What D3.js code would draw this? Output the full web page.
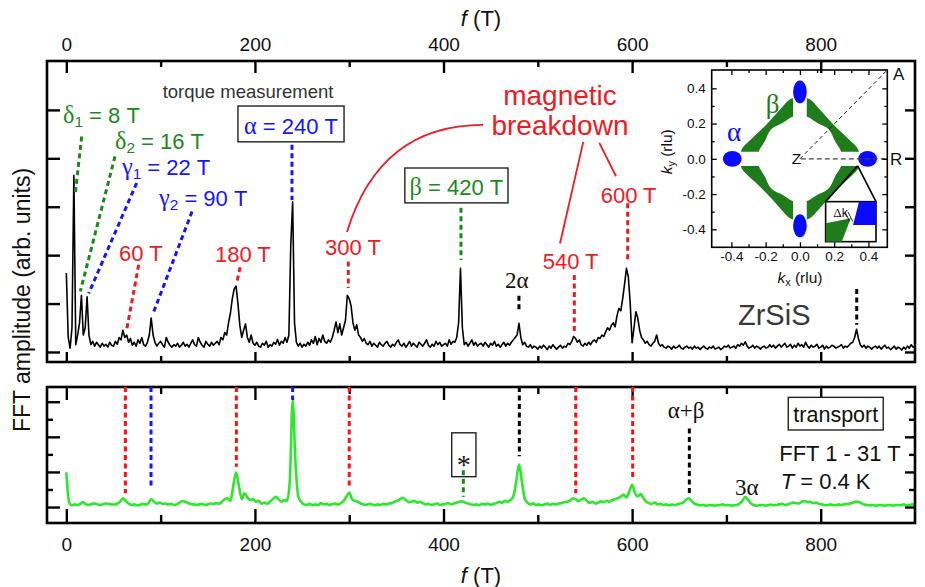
<!DOCTYPE html>
<html><head><meta charset="utf-8">
<script src="https://cdn.jsdelivr.net/npm/d3@7"></script>
<style>
body{margin:0;background:#fff;}
svg{display:block;font-family:"Liberation Sans",Arial,sans-serif;}
</style></head><body>
<svg id="c" width="925" height="587"></svg>
<script>
// ---------------- DATA ----------------
// torque FFT amplitude (arb. units), frequency step 2 T starting at 0 T
const torqueStep = 2;
const torqueAmp = [
1.63,0.30,0.08,0.50,3.65,0.15,0.35,0.60,1.17,0.35,
0.50,1.14,0.35,0.15,0.22,0.12,0.20,0.15,0.10,0.18,
0.12,0.16,0.10,0.20,0.14,0.12,0.22,0.16,0.30,0.25,
0.45,0.30,0.35,0.20,0.28,0.14,0.20,0.12,0.25,0.18,
0.30,0.15,0.12,0.20,0.35,0.70,0.35,0.20,0.12,0.18,
0.22,0.15,0.10,0.30,0.20,0.14,0.10,0.15,0.12,0.18,
0.10,0.14,0.20,0.12,0.16,0.10,0.18,0.25,0.15,0.12,
0.30,0.20,0.14,0.10,0.22,0.16,0.12,0.20,0.14,0.18,
0.22,0.15,0.30,0.25,0.40,0.35,0.60,0.80,1.10,1.30,
1.36,1.00,0.55,0.30,0.45,0.58,0.30,0.20,0.35,0.18,
0.14,0.20,0.12,0.10,0.18,0.14,0.22,0.10,0.15,0.12,
0.20,0.16,0.26,0.14,0.22,0.18,0.30,0.20,0.35,2.20,
3.10,0.60,0.20,0.12,0.18,0.10,0.16,0.12,0.20,0.14,
0.25,0.18,0.32,0.15,0.28,0.20,0.35,0.22,0.18,0.25,
0.20,0.30,0.45,0.62,0.40,0.58,0.35,0.50,0.65,1.17,
1.10,0.95,0.60,0.45,0.56,0.35,0.30,0.22,0.28,0.18,
0.15,0.22,0.12,0.18,0.14,0.10,0.20,0.15,0.12,0.18,
0.22,0.14,0.10,0.16,0.12,0.20,0.25,0.15,0.12,0.18,
0.10,0.15,0.22,0.12,0.18,0.14,0.10,0.20,0.16,0.12,
0.18,0.25,0.14,0.10,0.16,0.12,0.22,0.15,0.20,0.12,
0.15,0.18,0.12,0.25,0.16,0.22,0.20,0.30,0.60,1.73,
0.50,0.15,0.20,0.12,0.18,0.25,0.14,0.20,0.12,0.16,
0.18,0.12,0.20,0.15,0.10,0.18,0.14,0.22,0.12,0.16,
0.10,0.15,0.20,0.12,0.18,0.14,0.20,0.25,0.30,0.35,
0.59,0.30,0.15,0.20,0.12,0.10,0.15,0.08,0.12,0.10,
0.06,0.12,0.08,0.14,0.10,0.05,0.12,0.08,0.15,0.10,
0.06,0.10,0.14,0.08,0.12,0.10,0.18,0.15,0.22,0.32,
0.28,0.20,0.25,0.15,0.12,0.18,0.14,0.20,0.15,0.22,
0.25,0.20,0.30,0.28,0.35,0.32,0.42,0.50,0.45,0.55,
0.60,0.52,0.75,0.90,0.85,1.10,1.40,1.73,1.55,1.00,
0.19,0.50,0.83,0.70,0.45,0.30,0.25,0.18,0.22,0.15,
0.12,0.18,0.22,0.35,0.18,0.12,0.15,0.10,0.08,0.12,
0.10,0.06,0.12,0.08,0.10,0.14,0.08,0.06,0.10,0.12,
0.08,0.10,0.06,0.12,0.08,0.10,0.05,0.09,0.12,0.08,
0.06,0.10,0.08,0.12,0.06,0.08,0.10,0.05,0.08,0.12,
0.10,0.14,0.08,0.10,0.12,0.08,0.15,0.12,0.18,0.14,
0.21,0.12,0.08,0.10,0.14,0.08,0.12,0.10,0.06,0.10,
0.12,0.08,0.10,0.15,0.10,0.14,0.08,0.12,0.16,0.10,
0.14,0.18,0.10,0.12,0.16,0.08,0.14,0.10,0.18,0.12,
0.15,0.10,0.20,0.12,0.08,0.14,0.10,0.12,0.16,0.08,
0.10,0.14,0.06,0.12,0.08,0.10,0.14,0.12,0.08,0.10,
0.12,0.15,0.08,0.12,0.10,0.14,0.18,0.20,0.30,0.47,
0.28,0.15,0.10,0.14,0.08,0.12,0.10,0.06,0.10,0.12,
0.08,0.12,0.06,0.10,0.14,0.08,0.10,0.05,0.08,0.12,
0.06,0.10,0.08,0.04,0.10,0.06,0.12,0.08,0.15,0.10,
0.12];

// transport FFT amplitude (arb. units), frequency step 3 T starting at 0 T
const transportStep = 3;
const transportAmp = [
1.98,0.25,0.10,0.15,0.12,0.20,0.28,0.15,0.12,0.18,
0.20,0.15,0.12,0.16,0.20,0.18,0.15,0.14,0.20,0.30,
0.50,0.35,0.20,0.12,0.15,0.10,0.12,0.18,0.15,0.22,
0.46,0.30,0.20,0.25,0.18,0.20,0.15,0.18,0.12,0.15,
0.25,0.34,0.30,0.22,0.18,0.15,0.12,0.15,0.18,0.12,
0.15,0.20,0.18,0.22,0.18,0.30,0.45,0.50,0.35,1.20,
1.96,1.20,0.45,0.78,0.55,0.40,0.45,0.30,0.35,0.20,
0.25,0.18,0.30,0.45,0.59,0.45,0.30,0.40,0.35,1.50,
6.10,2.50,0.60,0.30,0.15,0.12,0.18,0.10,0.15,0.12,
0.22,0.15,0.18,0.12,0.16,0.20,0.15,0.22,0.35,0.60,
0.82,0.45,0.35,0.30,0.20,0.15,0.12,0.18,0.15,0.10,
0.15,0.12,0.18,0.15,0.20,0.22,0.30,0.35,0.45,0.53,
0.40,0.28,0.30,0.36,0.25,0.30,0.22,0.15,0.18,0.12,
0.15,0.20,0.12,0.15,0.18,0.22,0.15,0.20,0.25,0.30,
0.32,0.25,0.20,0.15,0.12,0.15,0.10,0.18,0.15,0.20,
0.12,0.18,0.22,0.30,0.25,0.35,0.30,0.40,0.60,1.40,
2.44,1.50,0.50,0.25,0.15,0.20,0.12,0.15,0.10,0.15,
0.20,0.12,0.18,0.15,0.20,0.22,0.28,0.30,0.35,0.50,
0.45,0.35,0.42,0.50,0.35,0.25,0.30,0.20,0.25,0.32,
0.28,0.35,0.30,0.40,0.45,0.50,0.60,0.69,0.55,0.90,
1.26,0.80,0.60,0.74,0.50,0.30,0.22,0.18,0.25,0.15,
0.18,0.12,0.15,0.10,0.14,0.12,0.15,0.20,0.25,0.40,
0.50,0.35,0.20,0.15,0.10,0.12,0.08,0.10,0.12,0.08,
0.10,0.12,0.15,0.10,0.12,0.08,0.10,0.12,0.20,0.35,
0.59,0.40,0.20,0.12,0.08,0.10,0.12,0.08,0.10,0.14,
0.10,0.12,0.15,0.18,0.12,0.15,0.20,0.25,0.22,0.20,
0.30,0.34,0.28,0.30,0.22,0.25,0.18,0.15,0.12,0.10,
0.15,0.12,0.10,0.15,0.12,0.15,0.18,0.20,0.25,0.30,
0.30,0.22,0.15,0.12,0.10,0.12,0.08,0.10,0.12,0.08,
0.10,0.12,0.08,0.10,0.12,0.10,0.15,0.10,0.12,0.15,
0.12];

// axis ticks
const fMajor = [0, 200, 400, 600, 800];
const fMinor = [100, 300, 500, 700];
const torqueTicks = [0, 1, 2, 3, 4, 5];
const transportMajor = [0, 2, 4, 6];
const transportMinor = [1, 3, 5];
const kMajor = [-0.4, -0.2, 0, 0.2, 0.4];
const kMinor = [-0.3, -0.1, 0.1, 0.3];

// torque panel guide lines: [f0, a0, f1, a1, kind]
const torqueGuides = [
  [16.3, 4.45, 9.5, 3.28, "delta"],
  [51.6, 4.04, 14.8, 1.25, "delta"],
  [74.6, 3.49, 23.7, 1.21, "gamma"],
  [133.3, 2.90, 92.7, 0.83, "gamma"],
  [76.7, 1.80, 64.3, 0.49, "mb"],
  [184.2, 1.75, 180.7, 1.42, "mb"],
  [239.3, 4.28, 239.3, 3.14, "gamma"],
  [299, 1.87, 299, 1.32, "mb"],
  [418.5, 2.98, 418.5, 1.90, "delta"],
  [480, 1.16, 480, 0.83, "harm"],
  [538.7, 1.59, 538.7, 0.42, "mb"],
  [595.3, 3.07, 595.3, 1.90, "mb"],
  [838.2, 1.30, 838.2, 0.56, "harm"]
];
// transport panel guide lines: [f, aTop, aBottom, kind]
const transportGuides = [
  [62.6, 6.84, 0.78, "mb"],
  [89.8, 6.84, 1.16, "gamma"],
  [180.3, 6.84, 2.30, "mb"],
  [240, 6.84, 6.10, "gamma"],
  [300, 6.84, 1.16, "mb"],
  [421, 2.10, 0.59, "delta"],
  [480.4, 6.84, 2.90, "harm"],
  [540.2, 6.84, 0.78, "mb"],
  [600.6, 6.84, 1.54, "mb"],
  [660.7, 4.48, 0.63, "harm"]
];

// text labels in the torque panel: [f, a, parts, kind]
const torqueLabels = [
  [-3.5, 4.73, ["δ","_1"," = 8 T"], "delta"],
  [51.6, 4.20, ["δ","_2"," = 16 T"], "delta"],
  [59.0, 3.66, ["γ","_1"," = 22 T"], "gamma"],
  [98.3, 3.02, ["γ","_2"," = 90 T"], "gamma"],
  [55.9, 1.88, ["60 T"], "mb"],
  [157.6, 1.86, ["180 T"], "mb"],
  [274.3, 2.00, ["300 T"], "mb"],
  [505.2, 1.71, ["540 T"], "mb"],
  [566.7, 3.08, ["600 T"], "mb"]
];
// boxed labels: [f0, f1, aTop, aBottom, parts, kind]
const torqueBoxes = [
  [182, 294.5, 5.08, 4.34, ["α"," = 240 T"], "gamma"],
  [359, 468.4, 3.80, 3.08, ["β"," = 420 T"], "delta"]
];
// magnetic breakdown connectors
const mbCurve = [[441.9, 4.69], [332.6, 4.69], [297.6, 2.48]];
const mbLines = [[[548.2, 4.34], [523.5, 2.24]], [[565.2, 4.32], [582.9, 3.63]]];

// inset: Fermi surface (k in rlu), one quadrant of the beta band: outer edge, then inner edge
const betaOuter = [[-0.345,0.04],[-0.335,0.062],[-0.27,0.125],[-0.195,0.195],[-0.125,0.27],[-0.062,0.335],[-0.04,0.345]];
const betaInner = [[-0.04,0.24],[-0.058,0.232],[-0.1,0.205],[-0.168,0.168],[-0.205,0.1],[-0.232,0.058],[-0.24,0.04]];
const alphaPockets = [[0,0.38,0.04,0.065],[0,-0.38,0.04,0.065],[-0.395,0,0.055,0.045],[0.395,0,0.055,0.045]];
const zoomApex = [0.337,-0.04];
const zoomBox = [0.15,0.444,-0.243,-0.47];
const zoomBlue = [[0.345,-0.243],[0.444,-0.243],[0.444,-0.375],[0.31,-0.375]];
const zoomGreen = [[0.151,-0.365],[0.297,-0.337],[0.244,-0.47],[0.151,-0.47]];

// ---------------- DRAW ----------------
const FONT = "Liberation Sans, Arial, sans-serif";
const SERIF = "Liberation Serif, Times New Roman, serif";
const COL = {delta:"#1a8a1a", gamma:"#1515ff", mb:"#ec1c24", harm:"#000"};
const svg = d3.select("#c");

const x = d3.scaleLinear().domain([-20.5, 900]).range([47, 915]);
const yTop = d3.scaleLinear().domain([-0.207, 6.01]).range([362, 61]);
const yBot = d3.scaleLinear().domain([-0.91, 6.84]).range([523, 387]);
const [xL, xR] = x.range();

function axis(gen, tr, values, size, withLabels, pad, fs) {
  const g = svg.append("g").attr("transform", tr)
    .call(gen.tickValues(values).tickSize(size).tickPadding(pad || 0)
      .tickFormat(withLabels ? d3.format("d") : ""));
  g.select(".domain").remove();
  g.selectAll("line").attr("stroke", "#000").attr("stroke-width", 2.4);
  g.selectAll("text").attr("font-size", fs || 19).attr("font-family", FONT).attr("fill", "#111");
  return g;
}

// rich text helper
function rich(sel, px, py, parts, size, color, anchor) {
  const t = sel.append("text").attr("x", px).attr("y", py).attr("font-size", size)
    .attr("fill", color).attr("font-family", FONT).attr("text-anchor", anchor || "start");
  let shift = 0;
  parts.forEach(p => {
    let s;
    if (p.startsWith("_")) {
      s = t.append("tspan").text(p.slice(1)).attr("font-size", size * 0.7).attr("dy", size * 0.2);
      shift = size * 0.2;
    } else if (p.startsWith("~")) {
      s = t.append("tspan").text(p.slice(1)).attr("font-style", "italic");
      if (shift) { s.attr("dy", -shift); shift = 0; }
    } else {
      s = t.append("tspan").text(p);
      if (/^[αβγδΔ]+$/.test(p)) s.attr("font-family", SERIF).attr("font-size", size * 1.1);
      if (shift) { s.attr("dy", -shift); shift = 0; }
    }
  });
  return t;
}

// traces
svg.append("path").datum(torqueAmp)
  .attr("d", d3.line().x((d, i) => x(i * torqueStep)).y(d => yTop(d)))
  .attr("fill", "none").attr("stroke", "#000").attr("stroke-width", 1.6).attr("stroke-linejoin", "round");
svg.append("path").datum(transportAmp)
  .attr("d", d3.line().x((d, i) => x(i * transportStep)).y(d => yBot(d)).curve(d3.curveMonotoneX))
  .attr("fill", "none").attr("stroke", "#2ce82c").attr("stroke-width", 2.6).attr("stroke-linejoin", "round");

// frames
[[yTop], [yBot]].forEach(([s]) => {
  const [b, t] = s.range();
  svg.append("rect").attr("x", xL).attr("y", t).attr("width", xR - xL).attr("height", b - t)
    .attr("fill", "none").attr("stroke", "#000").attr("stroke-width", 2.6);
});

// axes: torque panel
axis(d3.axisTop(x), `translate(0,${yTop.range()[1]})`, fMajor, -12, true, 10);
axis(d3.axisTop(x), `translate(0,${yTop.range()[1]})`, fMinor, -6, false);
axis(d3.axisBottom(x), `translate(0,${yTop.range()[0]})`, fMajor, -10, false);
axis(d3.axisBottom(x), `translate(0,${yTop.range()[0]})`, fMinor, -6, false);
axis(d3.axisLeft(yTop), `translate(${xL},0)`, torqueTicks, -13, false);
axis(d3.axisRight(yTop), `translate(${xR},0)`, torqueTicks, -10, false);
// axes: transport panel
axis(d3.axisTop(x), `translate(0,${yBot.range()[1]})`, fMajor, -13, false);
axis(d3.axisTop(x), `translate(0,${yBot.range()[1]})`, fMinor, -7, false);
axis(d3.axisBottom(x), `translate(0,${yBot.range()[0]})`, fMajor, -14, true, 15);
axis(d3.axisBottom(x), `translate(0,${yBot.range()[0]})`, fMinor, -8, false);
axis(d3.axisLeft(yBot), `translate(${xL},0)`, transportMajor, -13, false);
axis(d3.axisLeft(yBot), `translate(${xL},0)`, transportMinor, -6, false);
axis(d3.axisRight(yBot), `translate(${xR},0)`, transportMajor, -10, false);
axis(d3.axisRight(yBot), `translate(${xR},0)`, transportMinor, -6, false);

// axis titles
const xMid = (xL + xR) / 2;
rich(svg, xMid, 26, ["~f", " (T)"], 22, "#111", "middle");
rich(svg, xMid, 583, ["~f", " (T)"], 22, "#111", "middle");
svg.append("text").attr("transform", `translate(30,${(yTop.range()[1] + yBot.range()[0]) / 2 + 8}) rotate(-90)`)
  .attr("text-anchor", "middle").attr("font-size", 23).attr("font-family", FONT).attr("fill", "#111")
  .text("FFT amplitude (arb. units)");

// guides
const dash = "5,3.5";
torqueGuides.forEach(([f0, a0, f1, a1, k]) => {
  svg.append("line").attr("x1", x(f0)).attr("y1", yTop(a0)).attr("x2", x(f1)).attr("y2", yTop(a1))
    .attr("stroke", COL[k]).attr("stroke-width", 3).attr("stroke-dasharray", dash);
});
transportGuides.forEach(([f, a0, a1, k]) => {
  svg.append("line").attr("x1", x(f)).attr("y1", yBot(a0)).attr("x2", x(f)).attr("y2", yBot(a1))
    .attr("stroke", k === "mb" ? "#ff1010" : COL[k]).attr("stroke-width", 3).attr("stroke-dasharray", dash);
});

// torque labels
torqueLabels.forEach(([f, a, parts, k]) => rich(svg, x(f), yTop(a), parts, 22, COL[k]));
torqueBoxes.forEach(([f0, f1, a0, a1, parts, k]) => {
  svg.append("rect").attr("x", x(f0)).attr("y", yTop(a0)).attr("width", x(f1) - x(f0)).attr("height", yTop(a1) - yTop(a0))
    .attr("fill", "#fff").attr("stroke", "#222").attr("stroke-width", 1.4);
  rich(svg, (x(f0) + x(f1)) / 2, yTop(a1) - 8, parts, 22, COL[k], "middle");
});
svg.append("text").attr("x", x(192.7)).attr("y", yTop(5.25)).attr("text-anchor", "middle")
  .attr("font-size", 18.5).attr("fill", "#333").text("torque measurement");
svg.append("text").attr("x", x(465.2)).attr("y", yTop(1.32)).attr("font-family", SERIF)
  .attr("font-size", 23).attr("fill", "#111").text("2α");
svg.append("text").attr("x", x(712.3)).attr("y", yTop(0.56)).attr("font-size", 29).attr("fill", "#3a3a3a").text("ZrSiS");
["magnetic", "breakdown"].forEach((w, i) => {
  svg.append("text").attr("x", x(523.5)).attr("y", yTop(i ? 4.48 : 5.10)).attr("text-anchor", "middle")
    .attr("font-size", 28).attr("fill", COL.mb).text(w);
});
{
  const p = d3.path();
  p.moveTo(x(mbCurve[0][0]), yTop(mbCurve[0][1]));
  p.quadraticCurveTo(x(mbCurve[1][0]), yTop(mbCurve[1][1]), x(mbCurve[2][0]), yTop(mbCurve[2][1]));
  svg.append("path").attr("d", p.toString()).attr("fill", "none").attr("stroke", COL.mb).attr("stroke-width", 1.8);
  mbLines.forEach(([s, e]) => svg.append("line").attr("x1", x(s[0])).attr("y1", yTop(s[1]))
    .attr("x2", x(e[0])).attr("y2", yTop(e[1])).attr("stroke", COL.mb).attr("stroke-width", 1.8));
}

// transport labels
svg.append("rect").attr("x", x(408.7)).attr("y", yBot(4.23)).attr("width", x(434.4) - x(408.7))
  .attr("height", yBot(1.73) - yBot(4.23)).attr("fill", "none").attr("stroke", "#222").attr("stroke-width", 1.4);
svg.append("text").attr("x", x(421.5)).attr("y", yBot(1.88)).attr("text-anchor", "middle")
  .attr("font-family", SERIF).attr("font-size", 28).attr("fill", "#111").text("*");
svg.append("text").attr("x", x(637.7)).attr("y", yBot(5.05)).attr("font-family", SERIF)
  .attr("font-size", 23).attr("fill", "#111").text("α+β");
svg.append("text").attr("x", x(709.1)).attr("y", yBot(0.68)).attr("font-family", SERIF)
  .attr("font-size", 23).attr("fill", "#111").text("3α");
svg.append("rect").attr("x", x(765.6)).attr("y", yBot(6.25)).attr("width", x(866.3) - x(765.6))
  .attr("height", yBot(4.39) - yBot(6.25)).attr("fill", "#fff").attr("stroke", "#222").attr("stroke-width", 1.4);
svg.append("text").attr("x", x(816)).attr("y", yBot(4.86)).attr("text-anchor", "middle")
  .attr("font-size", 21.5).attr("fill", "#111").text("transport");
svg.append("text").attr("x", x(756)).attr("y", yBot(2.64)).attr("font-size", 22).attr("fill", "#111").text("FFT 1 - 31 T");
rich(svg, x(757.5), yBot(1.03), ["~T", " = 0.4 K"], 22, "#111");

// ---------------- INSET ----------------
const kx = d3.scaleLinear().domain([-0.515, 0.51]).range([711.7, 887.3]);
const ky = d3.scaleLinear().domain([-0.502, 0.504]).range([247.3, 70]);
const ins = svg.append("g");
const kLine = d3.line().x(d => kx(d[0])).y(d => ky(d[1]));
const kCurve = d3.line().x(d => kx(d[0])).y(d => ky(d[1])).curve(d3.curveCatmullRom.alpha(0.5));

// beta bands (mirrored into four quadrants)
[[1, 1], [-1, 1], [1, -1], [-1, -1]].forEach(([sx, sy]) => {
  const o = betaOuter.map(([a, b]) => [a * sx, b * sy]);
  const n = betaInner.map(([a, b]) => [a * sx, b * sy]);
  const d = kCurve(o) + "L" + kCurve(n).slice(1) + "Z";
  ins.append("path").attr("d", d).attr("fill", "#1e7d1a");
});
alphaPockets.forEach(([cx, cy, rx, ry]) => {
  ins.append("ellipse").attr("cx", kx(cx)).attr("cy", ky(cy))
    .attr("rx", kx(rx) - kx(0)).attr("ry", ky(0) - ky(ry)).attr("fill", "#0a0aff");
});
// dashed paths Z-A, Z-R
ins.append("line").attr("x1", kx(0)).attr("y1", ky(0)).attr("x2", kx(0.51)).attr("y2", ky(0.504))
  .attr("stroke", "#222").attr("stroke-width", 1).attr("stroke-dasharray", "4,3");
ins.append("line").attr("x1", kx(0.005)).attr("y1", ky(0)).attr("x2", kx(0.51)).attr("y2", ky(0))
  .attr("stroke", "#444").attr("stroke-width", 1.4).attr("stroke-dasharray", "5,3");
// zoom box
ins.append("line").attr("x1", kx(zoomApex[0])).attr("y1", ky(zoomApex[1])).attr("x2", kx(zoomBox[0])).attr("y2", ky(zoomBox[2]))
  .attr("stroke", "#000").attr("stroke-width", 1.6);
ins.append("line").attr("x1", kx(zoomApex[0])).attr("y1", ky(zoomApex[1])).attr("x2", kx(zoomBox[1])).attr("y2", ky(zoomBox[2]))
  .attr("stroke", "#000").attr("stroke-width", 1.6);
ins.append("rect").attr("x", kx(zoomBox[0])).attr("y", ky(zoomBox[2])).attr("width", kx(zoomBox[1]) - kx(zoomBox[0]))
  .attr("height", ky(zoomBox[3]) - ky(zoomBox[2])).attr("fill", "#fff").attr("stroke", "#000").attr("stroke-width", 1.6);
ins.append("path").attr("d", kLine.curve(d3.curveLinearClosed)(zoomBlue)).attr("fill", "#0a0aff");
ins.append("path").attr("d", kLine.curve(d3.curveLinearClosed)(zoomGreen)).attr("fill", "#1e7d1a");
rich(ins, kx(0.195), ky(-0.33), ["Δ", "k"], 12, "#111");
[[0.262, 0.29], [0.28, 0.308]].forEach(([a, b]) => ins.append("line")
  .attr("x1", kx(a)).attr("y1", ky(-0.30)).attr("x2", kx(b)).attr("y2", ky(-0.355)).attr("stroke", "#111").attr("stroke-width", 0.9));

// inset frame & axes
ins.append("rect").attr("x", kx.range()[0]).attr("y", ky.range()[1]).attr("width", kx.range()[1] - kx.range()[0])
  .attr("height", ky.range()[0] - ky.range()[1]).attr("fill", "none").attr("stroke", "#000").attr("stroke-width", 1.6);
function kaxis(gen, tr, values, size, labels, pad) {
  const g = ins.append("g").attr("transform", tr)
    .call(gen.tickValues(values).tickSize(size).tickPadding(pad || 0).tickFormat(labels ? (d => d.toFixed(1)) : ""));
  g.select(".domain").remove();
  g.selectAll("line").attr("stroke", "#000").attr("stroke-width", 1.3);
  g.selectAll("text").attr("font-size", 13.5).attr("font-family", FONT).attr("fill", "#111");
}
kaxis(d3.axisBottom(kx), `translate(0,${ky.range()[0]})`, kMajor, -5, true, 4);
kaxis(d3.axisBottom(kx), `translate(0,${ky.range()[0]})`, kMinor, -3, false);
kaxis(d3.axisTop(kx), `translate(0,${ky.range()[1]})`, kMajor, -5, false);
kaxis(d3.axisTop(kx), `translate(0,${ky.range()[1]})`, kMinor, -3, false);
kaxis(d3.axisLeft(ky), `translate(${kx.range()[0]},0)`, kMajor, -5, true, 6);
kaxis(d3.axisLeft(ky), `translate(${kx.range()[0]},0)`, kMinor, -3, false);
kaxis(d3.axisRight(ky), `translate(${kx.range()[1]},0)`, kMajor, -5, false);
kaxis(d3.axisRight(ky), `translate(${kx.range()[1]},0)`, kMinor, -3, false);

rich(ins, kx(0), ky(-0.705), ["~k", "_x", " (rlu)"], 15.5, "#111", "middle");
rich(ins, 0, 0, ["~k", "_y", " (rlu)"], 15.5, "#111", "middle").attr("transform", `translate(${kx(-0.745)},${ky(0.04)}) rotate(-90)`);
ins.append("text").attr("x", kx(-0.426)).attr("y", ky(0.102)).attr("font-family", SERIF).attr("font-size", 27).attr("fill", "#0a0aff").text("α");
ins.append("text").attr("x", kx(-0.20)).attr("y", ky(0.26)).attr("font-family", SERIF).attr("font-size", 27).attr("fill", "#1e7d1a").text("β");
ins.append("text").attr("x", kx(0.008)).attr("y", ky(-0.028)).attr("text-anchor", "end").attr("font-size", 15.5).attr("fill", "#111").text("Z");
ins.append("text").attr("x", kx(0.526)).attr("y", ky(-0.034)).attr("font-size", 17).attr("fill", "#111").text("R");
ins.append("text").attr("x", kx(0.543)).attr("y", ky(0.449)).attr("font-size", 17).attr("fill", "#111").text("A");
</script>
</body></html>
